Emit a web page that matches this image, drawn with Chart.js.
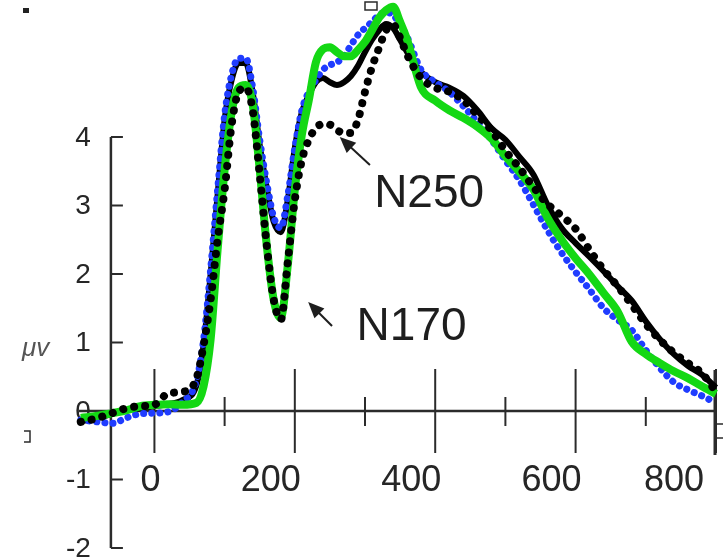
<!DOCTYPE html>
<html>
<head>
<meta charset="utf-8">
<script src="https://cdn.jsdelivr.net/npm/chart.js@4.4.0/dist/chart.umd.min.js"></script>
<style>
  html, body { margin: 0; padding: 0; background: #fff; }
  canvas { display: block; }
</style>
</head>
<body>
<canvas id="erp" width="723" height="558"></canvas>
<script>
// ERP waveforms (ms vs µV)
const times = [-105, -80, -60, -40, -20, 0, 20, 40, 60, 70, 80, 90, 100, 110, 120, 130, 140, 150, 160, 170,
  180, 190, 200, 210, 220, 230, 240, 250, 260, 270, 280, 290, 300, 310, 320, 330, 340, 350, 360, 380,
  400, 420, 440, 460, 480, 500, 520, 540, 560, 580, 600, 620, 640, 660, 680, 700, 720, 740, 760, 780, 800];

const greenSolid = [-0.10, -0.07, -0.03, 0.01, 0.07, 0.09, 0.10, 0.09, 0.12, 0.36, 1.04, 2.35, 3.52, 4.36, 4.72, 4.76, 4.47, 3.52, 2.42, 1.62,
  1.36, 2.13, 3.23, 4.03, 4.54, 5.09, 5.28, 5.31, 5.24, 5.18, 5.18, 5.27, 5.39, 5.56, 5.74, 5.85, 5.90, 5.68, 5.42, 4.72,
  4.53, 4.39, 4.28, 4.15, 3.98, 3.72, 3.49, 3.23, 2.82, 2.50, 2.23, 1.99, 1.72, 1.45, 1.01, 0.83, 0.70, 0.58, 0.48, 0.36, 0.25];

const blueDotted = [-0.13, -0.16, -0.18, -0.10, -0.04, -0.03, -0.01, 0.13, 0.45, 1.04, 2.06, 3.23, 4.32, 4.91, 5.15, 5.15, 4.72, 3.96, 3.33, 2.83,
  2.67, 3.15, 3.84, 4.39, 4.66, 4.83, 4.98, 5.05, 5.09, 5.18, 5.34, 5.49, 5.59, 5.68, 5.78, 5.82, 5.78, 5.64, 5.46, 4.98,
  4.80, 4.66, 4.45, 4.22, 3.96, 3.66, 3.37, 3.01, 2.64, 2.31, 2.03, 1.77, 1.50, 1.33, 1.18, 0.89, 0.63, 0.42, 0.31, 0.22, 0.12];

const blackSolid = [-0.15, -0.10, -0.04, 0.01, 0.04, 0.07, 0.10, 0.16, 0.38, 0.96, 1.99, 3.15, 4.25, 4.83, 5.08, 5.08, 4.65, 3.88, 3.26, 2.76,
  2.61, 3.08, 3.84, 4.36, 4.61, 4.80, 4.86, 4.80, 4.76, 4.80, 4.89, 5.04, 5.24, 5.42, 5.56, 5.65, 5.59, 5.42, 5.24, 4.95,
  4.80, 4.72, 4.60, 4.39, 4.13, 3.96, 3.71, 3.45, 3.01, 2.67, 2.45, 2.25, 2.04, 1.82, 1.61, 1.31, 1.05, 0.83, 0.66, 0.53, 0.34];

const blackDotted = [-0.16, -0.10, -0.03, 0.04, 0.07, 0.09, 0.26, 0.28, 0.48, 0.96, 1.62, 2.50, 3.23, 4.18, 4.66, 4.72, 4.39, 3.45, 2.42, 1.62,
  1.33, 2.18, 3.08, 3.66, 3.96, 4.13, 4.19, 4.18, 4.10, 4.06, 4.06, 4.25, 4.66, 5.02, 5.30, 5.56, 5.64, 5.45, 5.20, 4.86,
  4.72, 4.66, 4.54, 4.32, 4.10, 3.80, 3.55, 3.27, 3.02, 2.85, 2.66, 2.35, 2.06, 1.82, 1.55, 1.27, 1.04, 0.85, 0.70, 0.55, 0.28];

// axes
const xMajorTicks = [0, 200, 400, 600, 800];
const xTickLabels = ['0', '200', '400', '600', '800'];
const xMinorTicks = [100, 300, 500, 700];
const yTicks = [4, 3, 2, 1, 0, -1, -2];
const yTickLabels = ['4', '3', '2', '1', '0', '-1', '-2'];
const yUnit = 'μv';

// annotations: [label, arrow tip (ms, µV), arrow tail (ms, µV), text anchor (ms, µV)]
const annotations = [
  ['N250', [264, 4.0], [307, 3.59], [313, 2.98]],
  ['N170', [219, 1.59], [253, 1.24], [288, 1.04]]
];

const toXY = arr => times.map((t, i) => ({ x: t, y: arr[i] }));

const erpAxes = {
  id: 'erpAxes',
  beforeDatasetsDraw(chart) {
    const { ctx, scales: { x, y } } = chart;
    const axX = x.getPixelForValue(-62);
    const y0 = y.getPixelForValue(0);
    ctx.save();
    ctx.strokeStyle = '#2b2b2b';
    ctx.fillStyle = '#262626';

    // horizontal axis
    ctx.lineWidth = 2.5;
    ctx.beginPath();
    ctx.moveTo(x.getPixelForValue(-108), y0);
    ctx.lineTo(x.getPixelForValue(800), y0);
    ctx.stroke();
    ctx.lineWidth = 2;
    xMajorTicks.forEach(v => {
      const px = x.getPixelForValue(v);
      ctx.beginPath();
      ctx.moveTo(px, y0 - 42);
      ctx.lineTo(px, y0 + 42);
      ctx.stroke();
    });
    xMinorTicks.forEach(v => {
      const px = x.getPixelForValue(v);
      ctx.beginPath();
      ctx.moveTo(px, y0 - 14);
      ctx.lineTo(px, y0 + 15);
      ctx.stroke();
    });

    // vertical axis
    ctx.lineWidth = 2.5;
    ctx.beginPath();
    ctx.moveTo(axX, y.getPixelForValue(4));
    ctx.lineTo(axX, y.getPixelForValue(-2));
    ctx.stroke();
    ctx.lineWidth = 2;
    yTicks.forEach(v => {
      const py = y.getPixelForValue(v);
      ctx.beginPath();
      ctx.moveTo(axX, py);
      ctx.lineTo(axX + 12, py);
      ctx.stroke();
    });

    // tick labels
    ctx.font = '28px "Liberation Sans", Arial, sans-serif';
    ctx.textAlign = 'right';
    ctx.textBaseline = 'middle';
    yTicks.forEach((v, i) => ctx.fillText(yTickLabels[i], axX - 20, y.getPixelForValue(v) + 1));

    ctx.font = '36px "Liberation Sans", Arial, sans-serif';
    ctx.textAlign = 'center';
    const shift = [-4, -24, -24, -24, -42];
    xMajorTicks.forEach((v, i) => ctx.fillText(xTickLabels[i], x.getPixelForValue(v) + shift[i], y0 + 70));

    ctx.font = 'italic 26px "Liberation Sans", Arial, sans-serif';
    ctx.fillStyle = '#555';
    ctx.textAlign = 'left';
    ctx.fillText(yUnit, 22, y.getPixelForValue(1) + 6);

    // cropped remnants at the image edges
    ctx.fillStyle = '#222';
    ctx.fillRect(23, 8, 6, 5);
    ctx.lineWidth = 1.5;
    ctx.strokeRect(365, 2, 12, 8);
    ctx.strokeRect(716, 424, 8, 14);
    ctx.beginPath();
    ctx.moveTo(24, 431); ctx.lineTo(30, 431); ctx.lineTo(30, 442); ctx.lineTo(24, 442);
    ctx.stroke();
    ctx.lineWidth = 3;
    ctx.beginPath();
    ctx.moveTo(715, 370); ctx.lineTo(715, 455);
    ctx.stroke();
    ctx.restore();
  },
  afterDatasetsDraw(chart) {
    const { ctx, scales: { x, y } } = chart;
    ctx.save();
    ctx.fillStyle = '#1e1e1e';
    ctx.strokeStyle = '#1e1e1e';
    ctx.font = '46px "Liberation Sans", Arial, sans-serif';
    ctx.textAlign = 'left';
    ctx.textBaseline = 'alphabetic';
    annotations.forEach(([label, tip, tail, anchor]) => {
      const tx = x.getPixelForValue(tip[0]), ty = y.getPixelForValue(tip[1]);
      const sx = x.getPixelForValue(tail[0]), sy = y.getPixelForValue(tail[1]);
      const ang = Math.atan2(ty - sy, tx - sx);
      ctx.lineWidth = 2;
      ctx.beginPath();
      ctx.moveTo(sx, sy);
      ctx.lineTo(tx - 8 * Math.cos(ang), ty - 8 * Math.sin(ang));
      ctx.stroke();
      ctx.beginPath();
      ctx.moveTo(tx, ty);
      ctx.lineTo(tx - 16 * Math.cos(ang) + 7 * Math.sin(ang), ty - 16 * Math.sin(ang) - 7 * Math.cos(ang));
      ctx.lineTo(tx - 16 * Math.cos(ang) - 7 * Math.sin(ang), ty - 16 * Math.sin(ang) + 7 * Math.cos(ang));
      ctx.closePath();
      ctx.fill();
      ctx.fillText(label, x.getPixelForValue(anchor[0]), y.getPixelForValue(anchor[1]));
    });
    ctx.restore();
  }
};

new Chart(document.getElementById('erp'), {
  type: 'line',
  data: {
    datasets: [
      { label: 'dotted black', data: toXY(blackDotted), borderColor: '#000', borderWidth: 8,
        borderDash: [0.1, 11], borderCapStyle: 'round', order: 0 },
      { label: 'green', data: toXY(greenSolid), borderColor: '#14d814', borderWidth: 8, order: 1 },
      { label: 'dotted blue', data: toXY(blueDotted), borderColor: '#1f3cff', borderWidth: 7,
        borderDash: [0.1, 8], borderCapStyle: 'round', order: 2 },
      { label: 'black', data: toXY(blackSolid), borderColor: '#000', borderWidth: 6, order: 3 }
    ]
  },
  options: {
    responsive: false,
    animation: false,
    layout: { padding: 0 },
    elements: {
      point: { radius: 0 },
      line: { cubicInterpolationMode: 'monotone', borderJoinStyle: 'round', fill: false }
    },
    scales: {
      x: { type: 'linear', min: -220, max: 810, display: false },
      y: { min: -2.146, max: 6.0, display: false }
    },
    plugins: { legend: { display: false }, tooltip: { enabled: false } }
  },
  plugins: [erpAxes]
});
</script>
</body>
</html>
